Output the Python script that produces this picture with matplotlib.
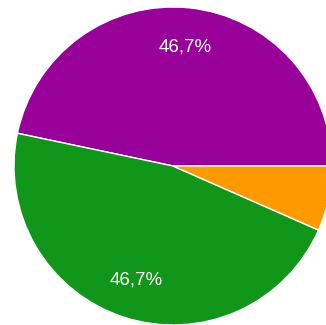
import matplotlib.pyplot as plt

# Slice shares (percent), drawn counter-clockwise from 3 o'clock
labels = ['Purple', 'Green', 'Orange']
shares = [46.7, 46.7, 6.6]
colors = ['#990099', '#109618', '#ff9900']


def pct_label(pct):
    # Google-style: hide labels for small slices, comma decimal
    if pct < 10:
        return ''
    return '{:.1f}%'.format(pct).replace('.', ',')


fig = plt.figure(figsize=(3.26, 3.25), dpi=100)
ax = fig.add_axes([0, 0, 1, 1])

wedges, texts, autotexts = ax.pie(
    shares,
    colors=colors,
    startangle=0,
    counterclock=True,
    autopct=pct_label,
    pctdistance=0.75,
    wedgeprops={'linewidth': 1, 'edgecolor': 'white'},
    textprops={'color': 'white', 'family': 'Liberation Sans', 'fontsize': 13.5},
)

# Pie centre sits at about (173, 166) px with radius ~159 px; right side is cut off
cx, cy, r = 173, 166, 159
ax.set_aspect('auto')
ax.set_xlim(-cx / r, (326 - cx) / r)
ax.set_ylim(-(325 - cy) / r, cy / r)
ax.axis('off')

plt.savefig('out.png', dpi=100)
